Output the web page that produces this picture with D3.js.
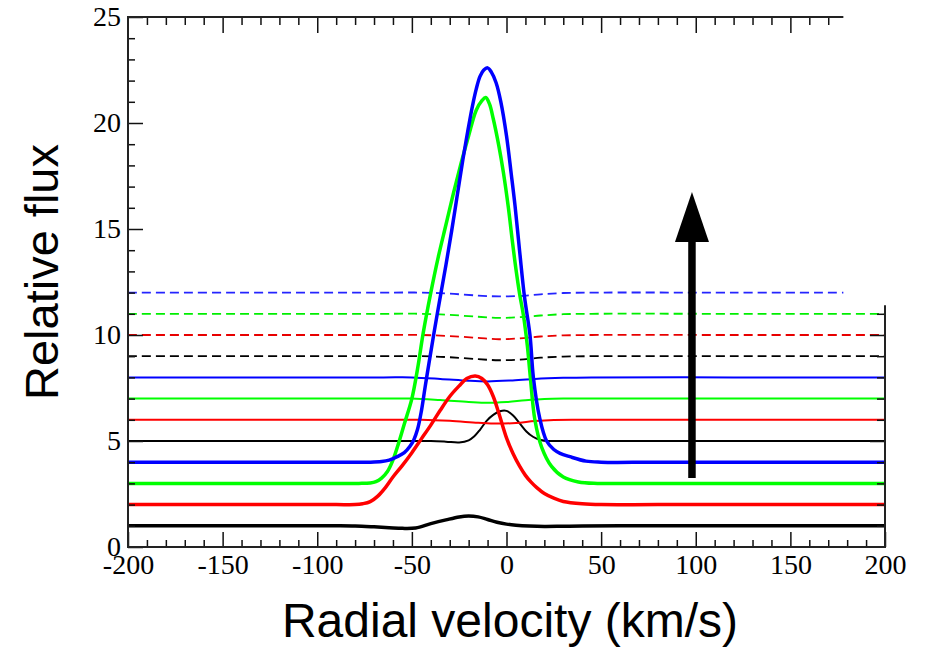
<!DOCTYPE html>
<html>
<head>
<meta charset="utf-8">
<script src="https://cdn.jsdelivr.net/npm/d3@7"></script>
<style>
  body { margin: 0; background: #fff; }
  svg { display: block; }
</style>
</head>
<body>
<svg id="chart"></svg>
<script>
"use strict"

// line profiles, velocity (km/s) vs relative flux
const velBlack1 = [-200, -120, -90, -80, -70, -62, -55, -48, -40, -32, -25, -20, -15, -10, -5, 0, 5, 12, 20, 30, 40, 60, 120, 200]
const fluxBlack1 = [1, 1, 1, 0.99, 0.95, 0.91, 0.88, 0.9, 1.1, 1.28, 1.42, 1.46, 1.42, 1.3, 1.17, 1.08, 1.03, 0.99, 0.97, 0.98, 0.99, 1, 1, 1]

const velRed2 = [-200, -120, -90, -80, -76, -72, -68, -64, -60, -55, -50, -45, -40, -35, -30, -25, -21, -16.5, -13, -10, -7, -4, 0, 3.5, 7, 10, 13, 16, 20, 25, 30, 40, 50, 80, 200]
const fluxRed2 = [2, 2, 2, 2, 2.04, 2.14, 2.4, 2.8, 3.3, 3.85, 4.45, 5.1, 5.75, 6.45, 7.1, 7.6, 7.95, 8.07, 7.95, 7.65, 7.1, 6.3, 5.15, 4.4, 3.8, 3.38, 3.06, 2.8, 2.52, 2.3, 2.15, 2.04, 2.0, 2, 2]

const velGreen3 = [-200, -120, -90, -78, -72, -69, -66, -63, -60, -57, -54, -50, -47, -44, -40, -36, -32, -28, -24, -20, -16, -13, -11, -9, -7, -4, -1.7, 1, 3, 5, 7, 9, 11, 12.5, 15, 18.6, 23.8, 30, 38, 48, 80, 200]
const fluxGreen3 = [3, 3, 3, 3, 3.02, 3.08, 3.25, 3.55, 4.1, 4.9, 5.8, 7.0, 8.4, 10.1, 12.0, 13.7, 15.2, 16.7, 18.1, 19.4, 20.6, 21.05, 21.2, 20.9, 20.2, 18.9, 17.7, 16.0, 14.5, 13.1, 11.9, 10.9, 9.5, 8.1, 6.0, 4.7, 3.8, 3.3, 3.07, 3.0, 3, 3]

const velBlue4 = [-200, -120, -90, -78, -72, -66, -62, -58, -54, -51, -49, -47, -45, -43, -41, -38.5, -35, -32, -29, -26, -23, -20.5, -18, -16, -14, -12, -10, -8, -5.5, -3, 0, 2.5, 4.5, 7, 9.5, 12.4, 14.2, 17.5, 21.2, 25, 28.3, 33.5, 42, 50, 80, 200]
const fluxBlue4 = [4, 4, 4, 4, 4.0, 4.03, 4.1, 4.25, 4.45, 4.75, 5.05, 5.55, 6.4, 7.55, 8.65, 10.0, 11.8, 13.3, 14.9, 16.6, 18.3, 19.6, 20.8, 21.6, 22.2, 22.5, 22.6, 22.4, 21.9, 21.0, 19.4, 17.6, 16.1, 13.9, 11.8, 10.0, 8.0, 6.1, 5.0, 4.6, 4.42, 4.26, 4.05, 4.0, 4, 4]

const velBlack5 = [-200, -120, -60, -40, -32, -25, -20, -17, -14, -10.5, -7, -3.5, 0, 3.5, 7, 10.5, 14, 18, 22, 30, 60, 120, 200]
const fluxBlack5 = [5, 5, 5, 5, 4.97, 4.93, 5.03, 5.22, 5.53, 5.95, 6.23, 6.4, 6.42, 6.2, 5.83, 5.45, 5.2, 5.05, 5.0, 5, 5, 5, 5]

const velRed6 = [-200, -120, -60, -45, -30, -15, -5, 5, 15, 25, 40, 120, 200]
const fluxRed6 = [6, 6, 6, 6, 5.95, 5.86, 5.82, 5.85, 5.94, 5.99, 6, 6, 6]

const velGreen7 = [-200, -120, -65, -50, -35, -20, -10, 0, 10, 20, 30, 45, 120, 200]
const fluxGreen7 = [7, 7, 7, 7, 6.93, 6.84, 6.8, 6.84, 6.92, 6.98, 7, 7, 7, 7]

const velBlue8 = [-200, -120, -65, -50, -35, -20, -10, 2, 15, 30, 45, 120, 200]
const fluxBlue8 = [8, 8, 8, 8, 7.93, 7.84, 7.81, 7.85, 7.93, 7.98, 8, 8, 8]

const velDash = [-200, -120, -65, -45, -30, -15, -4, 7, 18, 30, 45, 120, 200]
const fluxBlack9 = [9, 9, 9, 9, 8.95, 8.86, 8.81, 8.84, 8.93, 8.98, 9, 9, 9]
const fluxRed10 = [10, 10, 10, 10, 9.95, 9.86, 9.8, 9.84, 9.93, 9.98, 10, 10, 10]
const fluxGreen11 = [11, 11, 11, 11, 10.95, 10.86, 10.81, 10.84, 10.92, 10.98, 11, 11, 11]

const velBlue12 = [-200, -120, -65, -45, -30, -15, -4, 7, 18, 30, 45, 120, 178]
const fluxBlue12 = [12, 12, 12, 12, 11.95, 11.86, 11.82, 11.84, 11.92, 11.98, 12, 12, 12]

// arrow, in data units
const arrowVel = 98
const arrowFrom = 3.25
const arrowTo = 16.75

const xTicksMajor = [-200, -150, -100, -50, 0, 50, 100, 150, 200]
const yTicksMajor = [0, 5, 10, 15, 20, 25]
const xTitle = "Radial velocity (km/s)"
const yTitle = "Relative flux"

const W = 929, H = 650
const svg = d3.select('#chart').attr('width', W).attr('height', H)
svg.append('rect').attr('width', W).attr('height', H).attr('fill', '#fff')

const x = d3.scaleLinear().domain([-200, 200]).range([128, 885])
const y = d3.scaleLinear().domain([0, 25]).range([547, 17])

const line = d3.line()
    .x(d => x(d[0]))
    .y(d => y(d[1]))
    .curve(d3.curveCatmullRom.alpha(0.5))

const zip = (a, b) => a.map((v, i) => [v, b[i]])

const series = [
    // dashed
    { v: velDash, f: fluxBlack9, color: '#000', w: 1.8, dash: '9,5' },
    { v: velDash, f: fluxRed10, color: '#e80000', w: 1.8, dash: '9,5' },
    { v: velDash, f: fluxGreen11, color: '#00ee00', w: 1.8, dash: '9,5' },
    { v: velBlue12, f: fluxBlue12, color: '#2424ff', w: 1.8, dash: '9,5' },
    // thin
    { v: velBlack5, f: fluxBlack5, color: '#000', w: 2 },
    { v: velRed6, f: fluxRed6, color: '#ff0000', w: 2 },
    { v: velGreen7, f: fluxGreen7, color: '#00ff00', w: 2 },
    { v: velBlue8, f: fluxBlue8, color: '#0000ff', w: 2 },
    // thick
    { v: velBlack1, f: fluxBlack1, color: '#000', w: 3.5 },
    { v: velRed2, f: fluxRed2, color: '#ff0000', w: 3.5 },
    { v: velGreen3, f: fluxGreen3, color: '#00ff00', w: 3.5 },
    { v: velBlue4, f: fluxBlue4, color: '#0000ff', w: 3.5 },
]

const plot = svg.append('g')
series.forEach(s => {
    plot.append('path')
        .attr('d', line(zip(s.v, s.f)))
        .attr('fill', 'none')
        .attr('stroke', s.color)
        .attr('stroke-width', s.w)
        .attr('stroke-dasharray', s.dash || null)
})

// axes: ticks inward, no domain path (frame is drawn by hand)
const tickStyle = g => {
    g.select('.domain').remove()
    g.selectAll('.tick line').attr('stroke', '#111').attr('stroke-width', 1.5)
    g.selectAll('.tick text')
        .attr('fill', '#000')
        .style('font-family', '"Liberation Serif", "DejaVu Serif", serif')
        .style('font-size', '28px')
}

const minorX = d3.range(-200, 201, 10).filter(d => !xTicksMajor.includes(d))
const minorY = d3.range(0, 26, 1).filter(d => !yTicksMajor.includes(d))
const plain = d => String(d)

svg.append('g').attr('transform', `translate(0,${y(0)})`)
    .call(d3.axisBottom(x).tickValues(minorX).tickSize(-7).tickFormat(''))
    .call(tickStyle)
svg.append('g').attr('transform', `translate(0,${y(0)})`)
    .call(d3.axisBottom(x).tickValues(xTicksMajor).tickSize(-15).tickPadding(7).tickFormat(plain))
    .call(tickStyle)

svg.append('g').attr('transform', `translate(${x(-200)},0)`)
    .call(d3.axisLeft(y).tickValues(minorY).tickSize(-7).tickFormat(''))
    .call(tickStyle)
svg.append('g').attr('transform', `translate(${x(-200)},0)`)
    .call(d3.axisLeft(y).tickValues(yTicksMajor).tickSize(-15).tickPadding(7).tickFormat(plain))
    .call(tickStyle)

// top axis only runs up to ~178 km/s, right axis only up to ~11.4
const topEnd = 178, rightEnd = 11.4
svg.append('g').attr('transform', `translate(0,${y(25)})`)
    .call(d3.axisTop(x).tickValues(minorX.filter(d => d <= topEnd)).tickSize(-8).tickFormat(''))
    .call(tickStyle)
svg.append('g').attr('transform', `translate(0,${y(25)})`)
    .call(d3.axisTop(x).tickValues(xTicksMajor.filter(d => d > -200 && d <= topEnd)).tickSize(-16).tickFormat(''))
    .call(tickStyle)
svg.append('g').attr('transform', `translate(${x(200)},0)`)
    .call(d3.axisRight(y).tickValues(minorY.filter(d => d <= rightEnd)).tickSize(-8).tickFormat(''))
    .call(tickStyle)
svg.append('g').attr('transform', `translate(${x(200)},0)`)
    .call(d3.axisRight(y).tickValues([5, 10]).tickSize(-15).tickFormat(''))
    .call(tickStyle)

const frame = svg.append('g').attr('stroke', '#222').attr('stroke-width', 2).attr('fill', 'none')
frame.append('line').attr('x1', x(-200)).attr('x2', x(-200)).attr('y1', y(25) - 1).attr('y2', y(0) + 1)
frame.append('line').attr('x1', x(-200) - 1).attr('x2', x(200) + 1).attr('y1', y(0)).attr('y2', y(0))
frame.append('line').attr('x1', x(-200) - 1).attr('x2', x(topEnd)).attr('y1', y(25)).attr('y2', y(25))
frame.append('line').attr('x1', x(200)).attr('x2', x(200)).attr('y1', y(rightEnd)).attr('y2', y(0) + 1)

// arrow
const headLen = 50, headHalf = 17
const ax = x(arrowVel), ay0 = y(arrowFrom), ay1 = y(arrowTo)
svg.append('line')
    .attr('x1', ax).attr('x2', ax)
    .attr('y1', ay0).attr('y2', ay1 + headLen - 2)
    .attr('stroke', '#000').attr('stroke-width', 7.5)
svg.append('path')
    .attr('d', `M${ax},${ay1} L${ax + headHalf},${ay1 + headLen} L${ax - headHalf},${ay1 + headLen} Z`)
    .attr('fill', '#000')

// titles
svg.append('text')
    .attr('x', 510)
    .attr('y', 637)
    .attr('text-anchor', 'middle')
    .style('font-family', '"Liberation Sans", Arial, sans-serif')
    .style('font-size', '48px')
    .text(xTitle)

svg.append('text')
    .attr('transform', `translate(58,272) rotate(-90)`)
    .attr('text-anchor', 'middle')
    .style('font-family', '"Liberation Sans", Arial, sans-serif')
    .style('font-size', '47px')
    .text(yTitle)
</script>
</body>
</html>
